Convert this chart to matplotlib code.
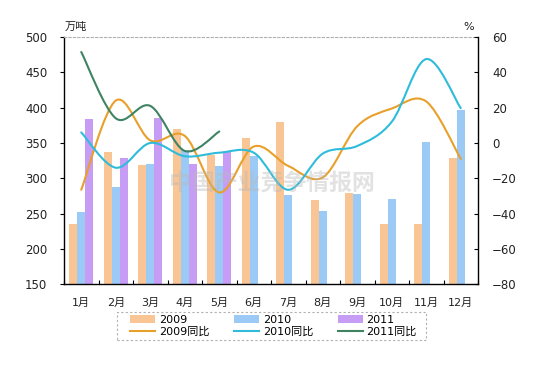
import numpy as np
import matplotlib
matplotlib.use('Agg')
import matplotlib.pyplot as plt
from matplotlib.path import Path
from matplotlib.patches import PathPatch, Rectangle
from matplotlib.lines import Line2D

plt.rcParams['font.family'] = ['DejaVu Sans', 'Noto Sans CJK SC']

''' monthly output (万吨) and year-on-year change (%) '''
months = ['1月', '2月', '3月', '4月', '5月', '6月', '7月', '8月', '9月', '10月', '11月', '12月']
bar_2009 = [236, 337, 319, 370, 333, 357, 380, 269, 279, 236, 236, 329]
bar_2010 = [252, 287, 320, 340, 317, 332, 276, 254, 278, 271, 351, 396]
bar_2011 = [384, 329, 386, 320, 339]
yoy_2009 = [-26.5, 24, 1.5, 4, -28, -2, -13, -19.5, 9.5, 19.5, 23.5, -9]
yoy_2010 = [6, -14, 0, -7.5, -5.5, -5.5, -26.5, -6, -1.7, 12, 47.5, 19.7]
yoy_2011 = [51.5, 14, 21, -4.5, 6.5]

c09, c10, c11 = '#FAC594', '#9CCAF7', '#C79CF5'
l09, l10, l11 = '#E8A02A', '#2FBCDA', '#3E8462'


def smooth_path(xs, ys):
    ''' excel-style smoothed line through the points (bezier, catmull-rom tangents) '''
    pts = np.column_stack([xs, ys]).astype(float)
    n = len(pts)
    verts = [pts[0]]
    codes = [Path.MOVETO]
    for i in range(n - 1):
        p0 = pts[i - 1] if i > 0 else pts[i]
        p1 = pts[i]
        p2 = pts[i + 1]
        p3 = pts[i + 2] if i + 2 < n else pts[i + 1]
        verts += [p1 + (p2 - p0) / 6, p2 - (p3 - p1) / 6, p2]
        codes += [Path.CURVE4] * 3
    return Path(verts, codes)


fig = plt.figure(figsize=(5.45, 3.68), dpi=100)
ax = fig.add_axes([64 / 545, 1 - 284.3 / 368, 414 / 545, 247.3 / 368])
ax2 = ax.twinx()

x = np.arange(len(months))
w = 0.235
b1 = ax.bar(x - w, bar_2009, w, color=c09, label='2009')
b2 = ax.bar(x, bar_2010, w, color=c10, label='2010')
b3 = ax.bar(x[:len(bar_2011)] + w, bar_2011, w, color=c11, label='2011')

ax.set_xlim(-0.5, 11.5)
ax.set_ylim(150, 500)
ax.set_yticks(range(150, 501, 50))
ax2.set_ylim(-80, 60)
ax2.set_yticks(range(-80, 61, 20))

for ys, col in [(yoy_2009, l09), (yoy_2010, l10), (yoy_2011, l11)]:
    ax2.add_patch(PathPatch(smooth_path(x[:len(ys)], ys), fill=False,
                            edgecolor=col, lw=1.5, capstyle='round'))

ax.set_xticks(x)
ax.set_xticklabels(months)
ax.set_xticks(np.arange(-0.5, 12, 1), minor=True)
ax.tick_params(axis='x', which='major', length=0, pad=10, labelsize=8, colors='#222222')
ax.tick_params(axis='x', which='minor', direction='in', length=3, width=0.8)
ax.tick_params(axis='y', length=3, width=0.8, pad=9, labelsize=8.5, colors='#222222')
ax2.tick_params(axis='y', direction='in', length=3, width=0.8, pad=10, labelsize=8.5,
                colors='#222222')
for a in (ax, ax2):
    a.tick_params(axis='both', color='black')

for a in (ax, ax2):
    for s in a.spines.values():
        s.set_linewidth(1.0)
ax.spines['right'].set_visible(False)
ax2.spines['left'].set_visible(False)
ax2.spines['bottom'].set_visible(False)
ax2.spines['top'].set_visible(False)
ax.spines['top'].set_color('#b0b0b0')
ax.spines['top'].set_linestyle((0, (2, 2)))
ax.spines['top'].set_linewidth(0.8)

fig.text(65 / 545, 1 - 27 / 368, '万吨', fontsize=8, va='center', ha='left', color='#222222')
fig.text(469 / 545, 1 - 27 / 368, '%', fontsize=8, va='center', ha='center', color='#222222')

# watermark
fig.text(272 / 545, 1 - 184 / 368, '中国产业竞争情报网', fontsize=16.5, fontweight='bold',
         color='#b8b8b8', alpha=0.4, ha='center', va='center', zorder=10)

# legend fills column by column, so interleave bars and lines
l1 = Line2D([], [], color=l09, lw=1.5)
l2 = Line2D([], [], color=l10, lw=1.5)
l3 = Line2D([], [], color=l11, lw=1.5)
handles = [b1, l1, b2, l2, b3, l3]
labels = ['2009', '2009同比', '2010', '2010同比', '2011', '2011同比']
fig.legend(handles, labels, ncol=3, loc='center', bbox_to_anchor=(273.4 / 545, 1 - 326 / 368),
           frameon=False, fontsize=8, handlelength=2.25, handletextpad=0.36,
           columnspacing=2.2, labelspacing=0.15, borderpad=0, borderaxespad=0)
fig.patches.append(Rectangle((116.7 / 545, 1 - 340 / 368), (426 - 116.7) / 545, 28 / 368,
                             transform=fig.transFigure, fill=False, edgecolor='#b0b0b0',
                             lw=0.8, linestyle=(0, (2, 2))))

fig.savefig('out.png', dpi=100)
